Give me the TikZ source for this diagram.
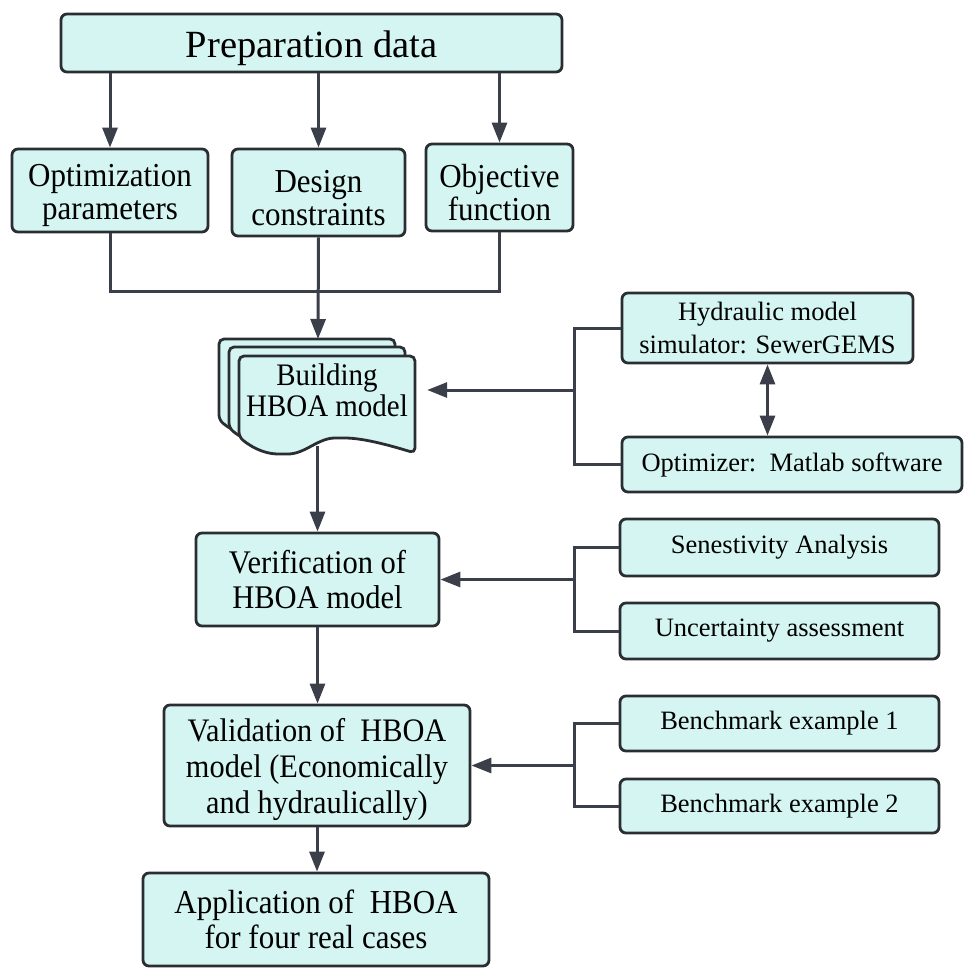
\documentclass[tikz,border=0pt]{standalone}
\usepackage{fontspec}
\setmainfont{Liberation Serif}
\newfontfamily\tallserif{Liberation Serif}[FakeStretch=0.925]
\usetikzlibrary{arrows.meta}

\definecolor{boxfill}{HTML}{D4F5F2}
\definecolor{boxline}{HTML}{2A2E33}
\definecolor{linkcol}{HTML}{3A3F49}

\tikzset{
  box/.style={draw=boxline, fill=boxfill, line width=2.8pt, rounded corners=6pt,
              align=center, inner sep=0pt},
  mainfont/.style={font=\tallserif\fontsize{33.5}{33}\selectfont},
  sidefont/.style={font=\fontsize{26.5}{33}\selectfont},
  line/.style={draw=linkcol, line width=3pt},
  link/.style={line, -{Triangle[length=20pt,width=15pt]}},
  dlink/.style={line, {Triangle[length=20pt,width=15pt]}-{Triangle[length=20pt,width=15pt]}},
  docpage/.style={draw=boxline, fill=boxfill, line width=2.8pt, rounded corners=5pt},
}

% one sheet of the stacked document symbol
\newcommand\docsheet{%
  \path[docpage] (239,437) .. controls (255,450) and (268,454) .. (283,454)
     .. controls (305,454) and (318,438) .. (340,438)
     .. controls (365,438) and (395,447) .. (415,453)
     -- (415,356) -- (239,356) -- cycle;}

\begin{document}
\begin{tikzpicture}[x=1pt,y=-1pt]
\useasboundingbox (0,0) rectangle (964,970);

% top block and its three inputs
\node[box, minimum width=501pt, minimum height=58pt, font=\fontsize{38.5}{40}\selectfont,
      text height=32pt, text depth=4pt]
  (prep) at (311.5,43) {Preparation data};
\node[box, mainfont, text height=66pt, minimum width=196pt, minimum height=83pt] (opt) at (110,190.5)
  {Optimization\\parameters};
\node[box, mainfont, text height=66pt, minimum width=173pt, minimum height=87pt] (des) at (318.5,192.5)
  {Design\\constraints};
\node[box, mainfont, text height=66pt, minimum width=147pt, minimum height=87pt] (obj) at (499.5,187.5)
  {Objective\\function};

% stacked document: Building HBOA model
\begin{scope}[shift={(-20,-17)}]\docsheet\end{scope}
\begin{scope}[shift={(-10,-9)}]\docsheet\end{scope}
\docsheet
\node[align=center, font=\tallserif\fontsize{31.3}{31}\selectfont, minimum width=176pt,
      minimum height=112pt, inner sep=0pt] (bld) at (327,390) {Building\\HBOA model};
\coordinate (bldtop) at (318,339);

% tools
\node[box, sidefont, minimum width=291pt, minimum height=70pt] (hyd) at (767.5,328)
  {Hydraulic model\\simulator: SewerGEMS};
\node[box, sidefont, minimum width=340pt, minimum height=55pt] (optm) at (792,464.5)
  {Optimizer:\ \ Matlab software};

% verification
\node[box, font=\tallserif\fontsize{33}{35}\selectfont, minimum width=243pt, minimum height=93pt]
  (ver) at (317.5,579.5) {Verification of\\HBOA model};
\node[box, sidefont, minimum width=319pt, minimum height=57pt] (sen) at (779.5,547.5)
  {Senestivity Analysis};
\node[box, sidefont, minimum width=319pt, minimum height=56pt] (unc) at (779.5,631)
  {Uncertainty assessment};

% validation
\node[box, font=\tallserif\fontsize{32.8}{36}\selectfont, text height=104pt,
      minimum width=306pt, minimum height=121pt]
  (val) at (317,765.5) {Validation of\ \ HBOA\\model (Economically\\and hydraulically)};
\node[box, sidefont, minimum width=319pt, minimum height=55pt] (bm1) at (779.5,723.5)
  {Benchmark example 1};
\node[box, sidefont, minimum width=319pt, minimum height=54pt] (bm2) at (779.5,806)
  {Benchmark example 2};

% application
\node[box, font=\tallserif\fontsize{33.5}{35}\selectfont, minimum width=346pt, minimum height=93pt]
  (app) at (316,919.5) {Application of\ \ HBOA\\for four real cases};

% connectors
\draw[link] (prep.south -| opt.north) -- (opt.north);
\draw[link] (prep.south -| des.north) -- (des.north);
\draw[link] (prep.south -| obj.north) -- (obj.north);
\coordinate (merge) at (318,291);
\draw[line] (opt.south) |- (merge) -| (obj.south);
\draw[link] (des.south) -- (bldtop);

\coordinate (hub1) at (574,390);
\draw[line] (hyd.west) -| (hub1) |- (optm.west);
\draw[link, shorten >=12pt] (hub1) -- (bld.east);
\draw[dlink] (hyd.south) -- (hyd.south |- optm.north);

\draw[link] (bld.south -| ver.north) -- (ver.north);
\coordinate (hub2) at (574,579.5);
\draw[line] (sen.west) -| (hub2) |- (unc.west);
\draw[link] (hub2) -- (ver.east);

\draw[link] (ver.south) -- (ver.south |- val.north);
\coordinate (hub3) at (574,765.5);
\draw[line] (bm1.west) -| (hub3) |- (bm2.west);
\draw[link] (hub3) -- (val.east);

\draw[link] (val.south) -- (val.south |- app.north);
\end{tikzpicture}
\end{document}
